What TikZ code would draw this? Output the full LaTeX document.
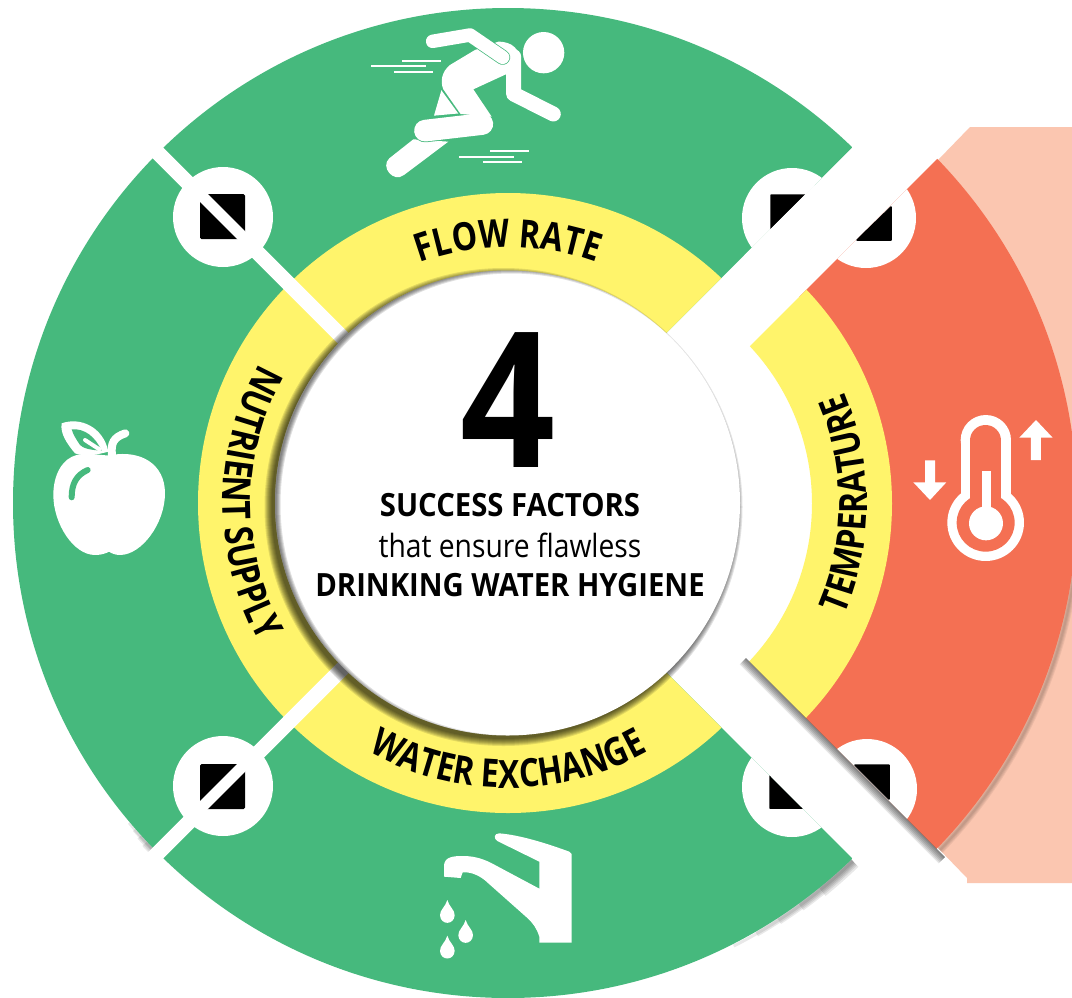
\documentclass[tikz,border=0pt]{standalone}
\usepackage{fontspec}
\usetikzlibrary{decorations.text}
\setmainfont{Open Sans}
\newfontfamily\labelfont[FakeStretch=0.82]{Open Sans Bold}
\newfontfamily\centerfont[FakeStretch=0.915]{Open Sans Bold}
\newfontfamily\numfont[FakeStretch=0.88]{Open Sans Bold}
\newfontfamily\lightfont[FakeStretch=0.883]{Open Sans}
\definecolor{grn}{HTML}{46B97D}
\definecolor{ylw}{HTML}{FFF46B}
\definecolor{rd}{HTML}{F47053}
\definecolor{pch}{HTML}{FBC6B0}
\tikzset{
  icon/.style={fill=white,draw=none},
  blk/.style={fill=black,draw=black,line width=1.5pt,line join=round},
  curvedlabel/.style={decorate,decoration={text along path,text align=center,text={|\labelfont\fontsize{39}{39}\selectfont|#1}}},
}
\begin{document}
\begin{tikzpicture}[x=1pt,y=1pt]
\useasboundingbox (0,0) rectangle (1072,-997);
\fill[white] (0,0) rectangle (1072,-997);
\clip (0,0) rectangle (1072,-997);
% peach
\fill[pch] (938,-160) -- (970,-127) -- (1072,-127) -- (1072,-883) -- (967,-883) -- (967,-878) -- (938,-848) -- cycle;
% red wedge shadow on peach
\begin{scope}
\clip (938,-848) -- (967,-878) -- (967,-883) -- (1072,-883) -- (1072,-500) -- cycle;
\foreach \w in {8,6,4,2}{\draw[black,opacity=.06,line width=\w pt] (584,-506) circle[radius=495];}
\end{scope}
% red wedge
\begin{scope}
\clip (592,-504) -- (1300,-1212) -- (1300,204) -- cycle;
\fill[rd,even odd rule] (582,-503.5) circle[radius=495] (582,-503.5) circle[radius=300];
\fill[ylw,even odd rule] (582,-503.5) circle[radius=310] (582,-503.5) circle[radius=230];
\fill[white] (866,-218) circle[radius=50];
\fill[white] (867,-789) circle[radius=50];
\draw[blk] (857,-240) -- (891,-240) -- (891,-207) -- cycle;
\draw[blk] (855,-765) -- (889,-765) -- (889,-799) -- cycle;
\end{scope}
\draw[white,line width=2pt] (835,-259) -- (905,-189);
% shadow lower diagonal
\begin{scope}
\clip (746,-658) -- (945,-857) -- (900,-902) -- (701,-703) -- cycle;
\foreach \w in {18,15,12,9,6,3}{\draw[black,opacity=.1,line width=\w pt] (735,-647) -- (950,-862);}
\end{scope}
% main shadow on outer rim
\foreach \w/\a in {16/-51,12/-54,9/-57,6/-60,3/-63}{\draw[black,opacity=.09,line width=\w pt] (509,-505) ++(-46:495) arc (-46:\a:495);}
\foreach \w/\a in {10/223,7/222,4/221,2/220}{\draw[black,opacity=.09,line width=\w pt] (508,-505) ++(224:495) arc (224:\a:495);}
% main disc
\begin{scope}
\clip (496.5,-502.5) -- (1100,100) -- (-100,100) -- (-100,-1100) -- (1100,-1106) -- cycle;
\fill[grn] (508,-503) circle[radius=495];
\fill[ylw] (508,-503) circle[radius=310];
\draw[white,line width=15pt] (508,-503) -- (100,-95);
\draw[white,line width=15pt] (508,-503) -- (100,-911);
\foreach \p in {(223,-217),(223,-786),(792,-218),(792,-787)}{\fill[white] \p circle[radius=50];}
\fill[black,rounded corners=1.5pt] (200,-194) rectangle (245,-239);
\fill[black,rounded corners=1.5pt] (200,-764) rectangle (245,-809);
\draw[white,line width=11pt] (190,-184) -- (255,-249);
\draw[white,line width=11pt] (190,-819) -- (255,-754);
\draw[blk] (771,-195) -- (805,-195) -- (771,-229) -- cycle;
\draw[blk] (770,-774) -- (770,-808) -- (804,-808) -- cycle;
\end{scope}
\draw[white,line width=2pt] (745,-256) -- (815,-186);
\draw[white,line width=2pt] (750,-754) -- (830,-834);
% centre shadow
\foreach \k in {7,6,5,4,3,2,1,0}{\fill[black,opacity=.11] (503.5,-507) circle[radius=232+\k];}
\fill[white] (507.5,-503) circle[radius=232.5];
\begin{scope}
\clip (507.5,-503) circle[radius=232.5];
\foreach \r in {231,232,233,234,235}{\fill[black,opacity=.12,even odd rule] (200,-200) rectangle (800,-800) (511.5,-504.5) circle[radius=\r];}
\end{scope}
% centre text
\node (four) at (507.5,-400.5) {\numfont\fontsize{189}{189}\selectfont 4};
\node (t1) at (510,-505) {\centerfont\fontsize{32}{32}\selectfont SUCCESS FACTORS};
\node (t2) at (510,-545) {\lightfont\fontsize{32}{32}\selectfont that ensure flawless};
\node (t3) at (510,-585) {\centerfont\fontsize{32}{32}\selectfont DRINKING WATER HYGIENE};
% curved labels
\path[curvedlabel=FLOW RATE] (508,-503) ++(125:256) arc (125:55:256);
\path[curvedlabel=NUTRIENT SUPPLY] (508,-503) ++(135:285) arc (135:225:285);
\path[curvedlabel=WATER EXCHANGE] (508,-503) ++(225:285) arc (225:315:285);
\path[curvedlabel=TEMPERATURE] (582,-503.5) ++(-40:285) arc (-40:40:285);
% runner
\begin{scope}[shift={(360,0)},x=.3333pt,y=-.3333pt]
\fill[white] (551,158) circle[radius=62];
\fill[icon] (245,268) -- (222,347) -- (300,340) -- cycle;
\draw[grn,line width=1.4pt] (241,262) -- (302,346);
\fill[icon] (160,418) -- (88,475) .. controls (60,500) and (100,550) .. (132,525) -- (265,425) -- cycle;
\draw[grn,line width=23.3pt,line cap=round] (195,392) -- (367,372);
\fill[icon] (345,150) -- (270,195) .. controls (245,215) and (240,245) .. (250,268) -- (302,342) -- (395,350) -- (340,268) -- (440,222) -- (440,285) -- (483,270) -- (483,190) .. controls (480,150) and (460,125) .. (415,125) -- cycle;
\draw[white,line width=21.7pt,line cap=round] (195,392) -- (367,372);
\draw[white,line width=15pt,line cap=round,line join=round] (461,170) -- (461,282) -- (580,342);
\draw[grn,line width=15pt,line cap=round,line join=round] (218,124) -- (330,105) -- (428,172);
\draw[white,line width=13.5pt,line cap=round,line join=round] (218,124) -- (330,105) -- (428,172);
\foreach \a/\b/\c in {127/243/183,33/198/198,102/218/215,390/507/452,297/462/470,369/486/485}{\draw[white,line width=1.7pt] (\a,\c) -- (\b,\c);}
\end{scope}
% faucet
\begin{scope}[shift={(420,-840)},x=.3333pt,y=-.3333pt]
\fill[icon] (72,110) -- (72,75) .. controls (75,50) and (100,48) .. (130,48) .. controls (165,48) and (195,58) .. (225,75) -- (358,146) -- (358,65) -- (232,3) .. controls (220,-5) and (222,-20) .. (238,-20) .. controls (300,-15) and (380,10) .. (448,35) -- (455,42) -- (455,308) -- (358,308) -- (358,290) .. controls (350,265) and (340,250) .. (320,232) -- (205,130) .. controls (180,105) and (150,95) .. (128,97) -- (122,114) -- cycle;
\foreach \x/\y in {82/180,137/240,82/287}{\fill[icon] (\x,\y) .. controls (\x+5,\y+20) and (\x+23,\y+30) .. (\x+22,\y+46) .. controls (\x+20,\y+76) and (\x-20,\y+76) .. (\x-22,\y+46) .. controls (\x-23,\y+30) and (\x-5,\y+20) .. (\x,\y) -- cycle;}
\end{scope}
% apple
\begin{scope}[shift={(40,-400)},x=.3333pt,y=-.3333pt]
\fill[icon] (215,165) .. controls (300,150) and (375,190) .. (375,280) .. controls (375,370) and (305,465) .. (240,465) .. controls (225,465) and (215,460) .. (207,455) .. controls (198,460) and (185,465) .. (165,465) .. controls (100,465) and (40,370) .. (40,285) .. controls (40,220) and (70,175) .. (110,165) .. controls (150,155) and (190,170) .. (215,165) -- cycle;
\draw[grn,line width=6pt,line cap=round] (95,292) .. controls (95,250) and (110,225) .. (143,210);
\draw[white,line width=8pt,line cap=round] (216,165) .. controls (212,130) and (220,112) .. (256,100);
\fill[icon] (65,70) .. controls (120,50) and (190,80) .. (205,155) .. controls (170,165) and (130,170) .. (105,160) .. controls (80,130) and (60,100) .. (65,70) -- cycle;
\fill[grn] (95,88) .. controls (135,85) and (165,110) .. (185,152) .. controls (150,150) and (130,145) .. (120,135) .. controls (110,120) and (100,105) .. (95,88) -- cycle;
\draw[white,line width=4pt,line cap=round] (135,120) -- (178,148);
\end{scope}
% thermometer
\begin{scope}[shift={(900,-400)},x=.3333pt,y=-.3333pt]
\fill[white] (182,120) rectangle (333,300);
\fill[white] (257.5,120.5) circle[radius=75.5];
\fill[white] (257,368) circle[radius=115];
\fill[rd] (210,121) rectangle (303,310);
\fill[rd] (256.5,121.5) circle[radius=46.5];
\fill[rd] (257,368) circle[radius=87];
\fill[white] (258,370) circle[radius=51];
\fill[white] (245,212) rectangle (273,340);
\fill[icon] (408,60) -- (458,113) -- (423,113) -- (423,180) -- (393,180) -- (393,113) -- (358,113) -- cycle;
\fill[icon] (40,247) -- (75,247) -- (75,181) -- (105,181) -- (105,247) -- (139,247) -- (90,300) -- cycle;
\end{scope}
\end{tikzpicture}
\end{document}
